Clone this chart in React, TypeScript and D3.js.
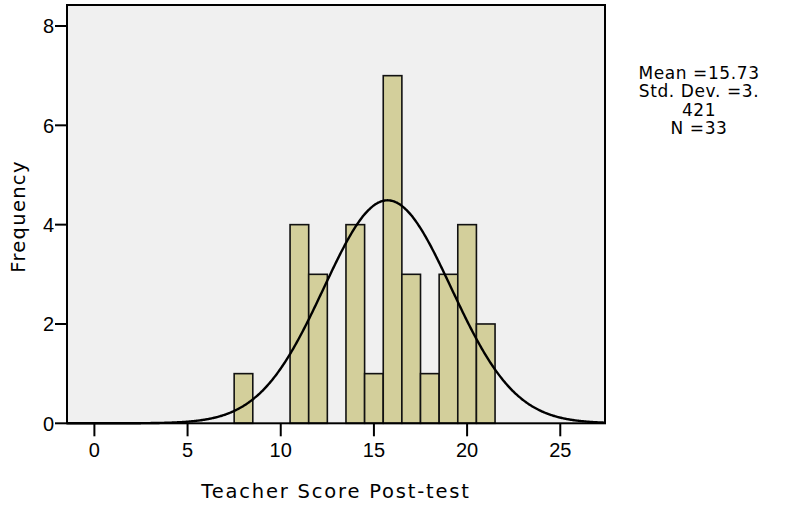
import React from "react";
import * as d3 from "d3";

const binCenters = [8, 11, 12, 14, 15, 16, 17, 18, 19, 20, 21];
const frequencies = [1, 4, 3, 4, 1, 7, 3, 1, 3, 4, 2];
const xTicks = [0, 5, 10, 15, 20, 25];
const yTicks = [0, 2, 4, 6, 8];
const mean = 15.73;
const stdDev = 3.421;
const nCount = 33;
const curvePeak = 4.49;
const statsLines = ["Mean =15.73", "Std. Dev. =3.", "421", "N =33"];

export default function App() {
  const W = 791, H = 506;
  const left = 67, right = 605, top = 5, bottom = 423.3;
  const x = d3.scaleLinear().domain([-1.47, 27.4]).range([left, right]);
  const y = d3.scaleLinear().domain([0, 8]).range([bottom, 26]);
  const binW = 1;

  const curvePts = d3.range(-1.47, 27.4, 0.05).concat([27.4]).map((v) => {
    const z = (v - mean) / stdDev;
    return [v, curvePeak * Math.exp(-0.5 * z * z)] as [number, number];
  });
  const line = d3.line<[number, number]>().x((d) => x(d[0])).y((d) => y(d[1])).curve(d3.curveBasis);

  const tickFont = "'Liberation Sans', Arial, sans-serif";
  const labelFont = "'DejaVu Sans', Verdana, sans-serif";

  return (
    <svg width={W} height={H} style={{ position: "absolute", left: 0, top: 0 }}>
      <rect x={0} y={0} width={W} height={H} fill="#ffffff" />
      <rect x={left} y={top} width={right - left} height={bottom - top} fill="#f0f0f0" />
      {binCenters.map((c, i) => (
        <rect
          key={i}
          x={x(c - binW / 2)}
          y={y(frequencies[i])}
          width={x(c + binW / 2) - x(c - binW / 2)}
          height={bottom - y(frequencies[i])}
          fill="#d3cf9b"
          stroke="#111"
          strokeWidth={1.6}
        />
      ))}
      <path d={line(curvePts) || ""} fill="none" stroke="#000" strokeWidth={2.4} />
      <rect x={left} y={top} width={right - left} height={bottom - top} fill="none" stroke="#000" strokeWidth={2} />
      {yTicks.map((t) => (
        <g key={"y" + t}>
          <line x1={left - 12} x2={left} y1={y(t)} y2={y(t)} stroke="#000" strokeWidth={2} />
          <text x={left - 13} y={y(t)} dy="0.36em" textAnchor="end" fontFamily={tickFont} fontSize={20} fill="#000">
            {t}
          </text>
        </g>
      ))}
      {xTicks.map((t) => (
        <g key={"x" + t}>
          <line x1={x(t)} x2={x(t)} y1={bottom} y2={bottom + 13} stroke="#000" strokeWidth={2} />
          <text x={x(t)} y={457} textAnchor="middle" fontFamily={tickFont} fontSize={20} fill="#000">
            {t}
          </text>
        </g>
      ))}
      <text x={336} y={498} textAnchor="middle" fontFamily={labelFont} fontSize={19.5} letterSpacing={1.8} fill="#000">
        Teacher Score Post-test
      </text>
      <text
        transform={`translate(25, 216.5) rotate(-90)`}
        textAnchor="middle"
        fontFamily={labelFont}
        fontSize={19.5}
        letterSpacing={1.3}
        fill="#000"
      >
        Frequency
      </text>
      {statsLines.map((s, i) => (
        <text
          key={i}
          x={699}
          y={79 + i * 18.3}
          textAnchor="middle"
          fontFamily={labelFont}
          fontSize={17}
          letterSpacing={0.6}
          fill="#000"
        >
          {s}
        </text>
      ))}
    </svg>
  );
}
